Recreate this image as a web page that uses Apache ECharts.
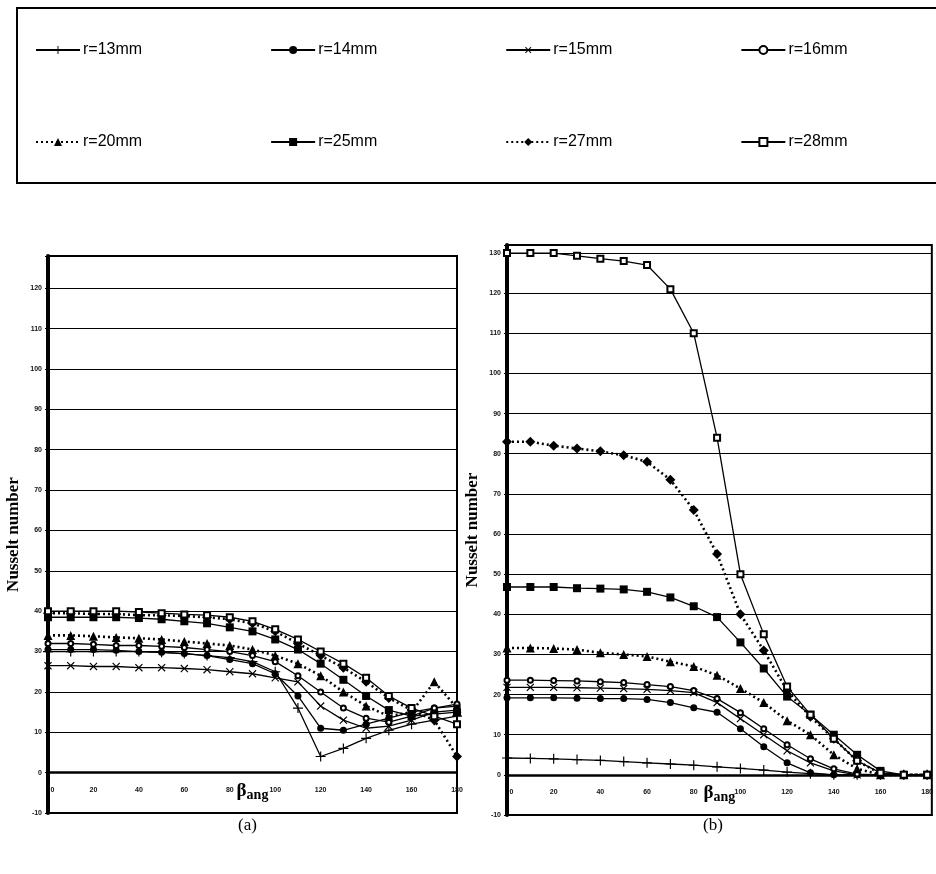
<!DOCTYPE html>
<html>
<head>
<meta charset="utf-8">
<script src="https://cdn.jsdelivr.net/npm/echarts@6/dist/echarts.min.js"></script>
<style>
html,body{margin:0;padding:0;background:#fff;}
#c{width:936px;height:874px;}
</style>
</head>
<body>
<div id="c"></div>
<script>
// ---- data ----
const angles = [0,10,20,30,40,50,60,70,80,90,100,110,120,130,140,150,160,170,180];
const names = ['r=13mm','r=14mm','r=15mm','r=16mm','r=20mm','r=25mm','r=27mm','r=28mm'];
const xTicks = [0,20,40,60,80,100,120,140,160,180];

// chart (a)
const aR13 = [30,30,30,30,30,29.8,29.5,29,28.5,27.5,25,16,4,6,8.5,10.5,12,13,14];
const aR14 = [30.5,30.5,30.5,30.3,30,29.8,29.5,29,28,27,24.5,19,11,10.5,12,13.5,15,16,16.5];
const aR15 = [26.5,26.5,26.3,26.3,26,26,25.8,25.5,25,24.5,23.5,22.5,16.5,13,11,11.5,13,15,15.5];
const aR16 = [32,32,31.8,31.5,31.5,31.3,31,30.5,30,29,27.5,24,20,16,13.5,12.5,14,16,17];
const aR20 = [34,34,33.8,33.5,33.3,33,32.5,32,31.5,30.5,29,27,24,20,16.5,14,15,22.5,16];
const aR25 = [38.5,38.5,38.5,38.5,38.3,38,37.5,37,36,35,33,30.5,27,23,19,15.5,14,14.5,15];
const aR27 = [39.5,39.5,39.3,39.3,39,39,38.8,38.5,38,37,35,32,29,26,22.5,18.5,15.5,13,4];
const aR28 = [40,40,40,40,39.8,39.5,39.2,39,38.5,37.5,35.5,33,30,27,23.5,19,16,14,12];

// chart (b)
const bR13 = [4.2,4.1,4,3.8,3.6,3.3,3,2.7,2.4,2,1.6,1.2,0.7,0.3,0,0,0,0,0];
const bR14 = [19.2,19.2,19.2,19.1,19,19,18.8,18,16.7,15.6,11.5,7,3,0.5,0,0,0,0,0];
const bR15 = [21.8,21.8,21.8,21.7,21.6,21.5,21.3,21,20.5,18,14,10,6,3,1,0,0,0,0];
const bR16 = [23.6,23.6,23.5,23.4,23.2,23,22.5,22,21,19,15.5,11.5,7.5,4,1.5,0.2,0,0,0];
const bR20 = [31.6,31.6,31.5,31.2,30.4,30,29.5,28.2,27,24.8,21.5,18,13.5,10,5,1.5,0,0,0];
const bR25 = [46.8,46.8,46.8,46.5,46.4,46.2,45.6,44.2,42,39.3,33,26.5,19.5,15,10,5,1,0,0];
const bR27 = [83,83,82,81.3,80.6,79.6,78,73.5,66,55,40,31,21,14.5,9,3.5,0.3,0,0];
const bR28 = [130,130,130,129.3,128.6,128,127,121,110,84,50,35,22,15,9,3.5,0.5,0,0];

const aData = [aR13,aR14,aR15,aR16,aR20,aR25,aR27,aR28];
const bData = [bR13,bR14,bR15,bR16,bR20,bR25,bR27,bR28];

// ---- styles ----
const plusPath = 'path://M-0.7,-6 L0.7,-6 L0.7,-0.7 L6,-0.7 L6,0.7 L0.7,0.7 L0.7,6 L-0.7,6 L-0.7,0.7 L-6,0.7 L-6,-0.7 L-0.7,-0.7 Z';
const styles = [
  {symbol: plusPath, size: 10, rotate: 0, dotted: false},
  {symbol: 'circle', size: 7, rotate: 0, dotted: false},
  {symbol: plusPath, size: 10, rotate: 45, dotted: false},
  {symbol: 'emptyCircle', size: 5, rotate: 0, dotted: false},
  {symbol: 'triangle', size: 9, rotate: 0, dotted: true},
  {symbol: 'rect', size: 8, rotate: 0, dotted: false},
  {symbol: 'diamond', size: 10, rotate: 0, dotted: true},
  {symbol: 'emptyRect', size: 6, rotate: 0, dotted: false}
];

const serif = '"Liberation Serif","DejaVu Serif",serif';
const sans = '"Liberation Sans",Arial,sans-serif';

function mkSeries(dataArr, idx) {
  return dataArr.map((arr, i) => {
    const st = styles[i];
    const empty = st.symbol.startsWith('empty');
    const s = {
      type: 'line',
      name: names[i],
      xAxisIndex: idx, yAxisIndex: idx,
      data: angles.map((a, k) => [a, arr[k]]),
      symbol: st.symbol,
      symbolSize: st.size,
      symbolRotate: st.rotate,
      showAllSymbol: true,
      itemStyle: {color: '#000', borderColor: '#000', borderWidth: empty ? 1.2 : 0},
      lineStyle: {color: '#000', width: st.dotted ? 2.6 : 1.3, type: st.dotted ? [2, 3] : 'solid'},
      emphasis: {disabled: true},
      z: 3
    };
    if (i === 0) {
      // horizontal axis line drawn at Nusselt = 0
      s.markLine = {silent: true, symbol: 'none', label: {show: false},
        lineStyle: {color: '#000', width: 2.5, type: 'solid'}, data: [{yAxis: 0}], z: 2};
    }
    return s;
  });
}

function xAxis(idx, max) {
  return {
    type: 'value', gridIndex: idx, min: 0, max: max, interval: 20,
    axisLine: {onZero: false, show: true, lineStyle: {color: '#000', width: 2}},
    axisTick: {show: false},
    axisLabel: {fontSize: 7, fontWeight: 'bold', color: '#111', margin: -26,
      showMinLabel: true, hideOverlap: false,
      customValues: xTicks,
      formatter: v => (v === 0 ? '{z|0}' : String(v)),
      rich: {z: {fontSize: 7, fontWeight: 'bold', color: '#111', padding: [0, 0, 0, 9]}}},
    splitLine: {show: false},
    name: '{b|β}{s|ang}',
    nameLocation: 'middle', nameGap: -33, nameMoveOverlap: false,
    nameTextStyle: {rich: {
      b: {fontFamily: serif, fontWeight: 'bold', fontSize: 19, color: '#000'},
      s: {fontFamily: serif, fontWeight: 'bold', fontSize: 14, color: '#000', padding: [8, 0, 0, 0]}
    }}
  };
}

function yAxis(idx, max) {
  return {
    type: 'value', gridIndex: idx, min: -10, max: max, interval: 10,
    axisLine: {show: true, lineStyle: {color: '#000', width: 4}},
    axisTick: {show: true, length: 3, lineStyle: {color: '#000'}},
    axisLabel: {fontSize: 7, fontWeight: 'bold', color: '#111', margin: 6,
      formatter: v => (v % 10 === 0 ? String(v) : '')},
    splitLine: {show: true, lineStyle: {color: '#000', width: 1}},
    name: 'Nusselt number', nameLocation: 'middle', nameGap: 26,
    nameTextStyle: {fontFamily: serif, fontWeight: 'bold', fontSize: 17, color: '#000'}
  };
}

const chart = echarts.init(document.getElementById('c'), null, {renderer: 'canvas'});
const legendCommon = {
  left: 30, itemWidth: 44, itemHeight: 10, itemGap: 128, selectedMode: false,
  textStyle: {fontFamily: sans, fontSize: 16, color: '#000', padding: [0, 0, 0, -2]}
};
chart.setOption({
  animation: false,
  backgroundColor: '#fff',
  legend: [
    Object.assign({}, legendCommon, {top: 37, data: names.slice(0, 4)}),
    Object.assign({}, legendCommon, {top: 129, data: names.slice(4)})
  ],
  grid: [
    {left: 48, top: 256, width: 409, height: 557, show: true, borderColor: '#000', borderWidth: 2, backgroundColor: 'transparent'},
    {left: 507, top: 245, width: 429, height: 570, show: true, borderColor: '#000', borderWidth: 2, backgroundColor: 'transparent'}
  ],
  xAxis: [xAxis(0, 180), xAxis(1, 182)],
  yAxis: [yAxis(0, 128), yAxis(1, 132)],
  series: mkSeries(aData, 0).concat(mkSeries(bData, 1)),
  graphic: [
    {type: 'rect', shape: {x: 17, y: 8, width: 940, height: 175}, style: {fill: 'none', stroke: '#000', lineWidth: 2}, z: -1},
    {type: 'text', left: 238, top: 817, style: {text: '(a)', font: '17px "Liberation Serif", serif', fill: '#000'}},
    {type: 'text', left: 703, top: 817, style: {text: '(b)', font: '17px "Liberation Serif", serif', fill: '#000'}}
  ]
});
</script>
</body>
</html>
